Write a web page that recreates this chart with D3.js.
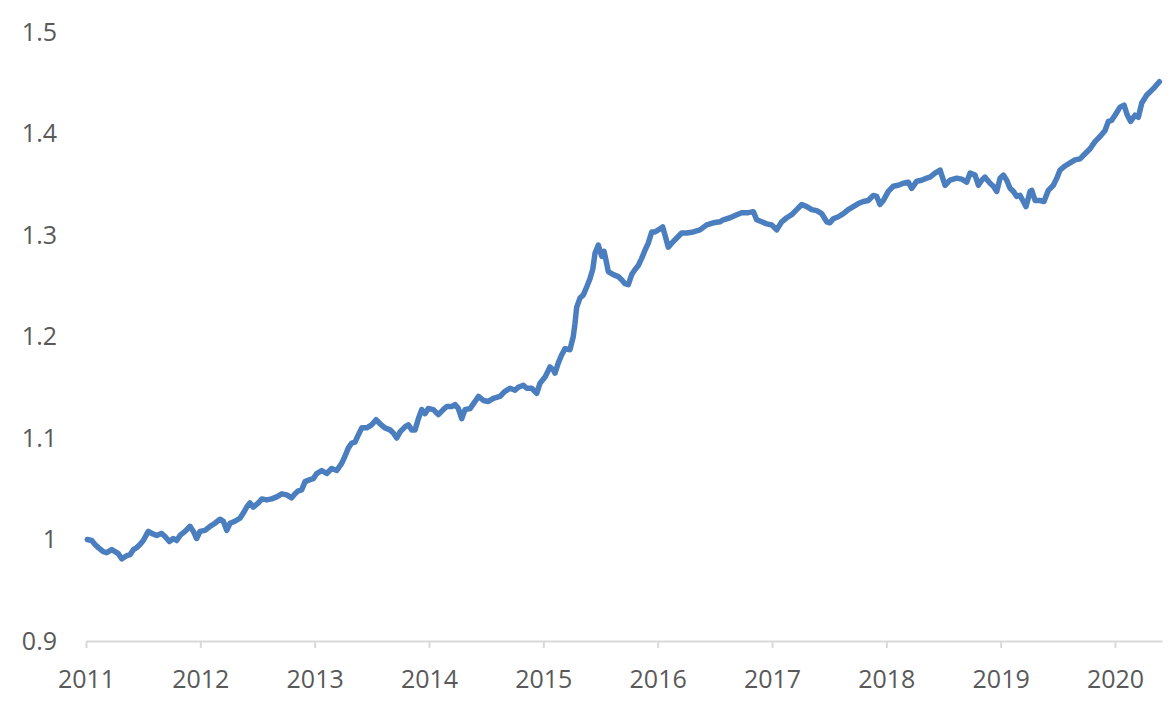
<!DOCTYPE html>
<html>
<head>
<meta charset="utf-8">
<script src="https://cdn.jsdelivr.net/npm/d3@7"></script>
<style>
  html, body { margin: 0; padding: 0; background: #ffffff; }
  svg { display: block; }
</style>
</head>
<body>
<svg id="chart" width="1176" height="705"></svg>
<script>
// ---- data ----
const xTickLabels = [2011, 2012, 2013, 2014, 2015, 2016, 2017, 2018, 2019, 2020];
const yTickLabels = [0.9, 1.0, 1.1, 1.2, 1.3, 1.4, 1.5];

const dates = [
  2011.011, 2011.050, 2011.079, 2011.108, 2011.151, 2011.181, 2011.225, 2011.254, 2011.283, 2011.312,
  2011.356, 2011.385, 2011.414, 2011.443, 2011.472, 2011.501, 2011.545, 2011.575, 2011.618, 2011.662,
  2011.691, 2011.729, 2011.764, 2011.793, 2011.822, 2011.866, 2011.910, 2011.939, 2011.968, 2011.997,
  2012.041, 2012.085, 2012.128, 2012.172, 2012.201, 2012.231, 2012.260, 2012.303, 2012.347, 2012.376,
  2012.406, 2012.434, 2012.463, 2012.507, 2012.537, 2012.581, 2012.624, 2012.668, 2012.712, 2012.756,
  2012.799, 2012.828, 2012.857, 2012.887, 2012.916, 2012.959, 2012.988, 2013.018, 2013.062, 2013.105,
  2013.149, 2013.193, 2013.236, 2013.265, 2013.294, 2013.324, 2013.353, 2013.382, 2013.412, 2013.455,
  2013.499, 2013.537, 2013.572, 2013.615, 2013.659, 2013.688, 2013.718, 2013.747, 2013.790, 2013.819,
  2013.849, 2013.878, 2013.907, 2013.936, 2013.965, 2013.994, 2014.038, 2014.082, 2014.125, 2014.155,
  2014.198, 2014.228, 2014.257, 2014.286, 2014.315, 2014.359, 2014.403, 2014.432, 2014.476, 2014.519,
  2014.563, 2014.621, 2014.665, 2014.709, 2014.752, 2014.781, 2014.825, 2014.855, 2014.898, 2014.942,
  2014.971, 2015.015, 2015.058, 2015.087, 2015.102, 2015.131, 2015.161, 2015.190, 2015.233, 2015.262,
  2015.277, 2015.292, 2015.321, 2015.350, 2015.380, 2015.408, 2015.432, 2015.452, 2015.481, 2015.511,
  2015.531, 2015.554, 2015.568, 2015.612, 2015.656, 2015.685, 2015.714, 2015.743, 2015.773, 2015.802,
  2015.831, 2015.860, 2015.889, 2015.918, 2015.948, 2015.977, 2016.006, 2016.044, 2016.064, 2016.093,
  2016.123, 2016.167, 2016.210, 2016.254, 2016.312, 2016.370, 2016.429, 2016.487, 2016.545, 2016.574,
  2016.633, 2016.692, 2016.735, 2016.793, 2016.837, 2016.866, 2016.910, 2016.954, 2016.997, 2017.041,
  2017.085, 2017.129, 2017.172, 2017.216, 2017.260, 2017.304, 2017.348, 2017.391, 2017.435, 2017.479,
  2017.507, 2017.536, 2017.580, 2017.624, 2017.667, 2017.711, 2017.755, 2017.799, 2017.842, 2017.886,
  2017.916, 2017.944, 2017.974, 2018.017, 2018.061, 2018.105, 2018.149, 2018.192, 2018.222, 2018.266,
  2018.309, 2018.353, 2018.382, 2018.426, 2018.470, 2018.514, 2018.557, 2018.616, 2018.659, 2018.703,
  2018.732, 2018.776, 2018.805, 2018.834, 2018.863, 2018.907, 2018.936, 2018.966, 2018.995, 2019.024,
  2019.053, 2019.082, 2019.111, 2019.141, 2019.169, 2019.198, 2019.222, 2019.257, 2019.272, 2019.301,
  2019.344, 2019.379, 2019.417, 2019.461, 2019.491, 2019.519, 2019.563, 2019.607, 2019.650, 2019.694,
  2019.738, 2019.782, 2019.825, 2019.869, 2019.913, 2019.942, 2019.971, 2020.000, 2020.044, 2020.079,
  2020.108, 2020.137, 2020.175, 2020.204, 2020.234, 2020.278, 2020.307, 2020.350, 2020.388
];

const values = [
  1.000, 0.999, 0.995, 0.992, 0.988, 0.987, 0.990, 0.988, 0.986, 0.981,
  0.984, 0.985, 0.990, 0.992, 0.995, 0.999, 1.008, 1.006, 1.004, 1.006,
  1.003, 0.998, 1.001, 0.999, 1.004, 1.008, 1.013, 1.008, 1.001, 1.008,
  1.009, 1.013, 1.016, 1.020, 1.018, 1.009, 1.016, 1.018, 1.021, 1.026,
  1.032, 1.036, 1.032, 1.036, 1.040, 1.039, 1.040, 1.042, 1.045, 1.044,
  1.041, 1.045, 1.048, 1.049, 1.057, 1.059, 1.060, 1.065, 1.068, 1.065,
  1.070, 1.068, 1.075, 1.082, 1.090, 1.095, 1.096, 1.103, 1.110, 1.110,
  1.113, 1.118, 1.114, 1.110, 1.108, 1.105, 1.100, 1.106, 1.111, 1.113,
  1.108, 1.108, 1.119, 1.128, 1.124, 1.129, 1.128, 1.123, 1.128, 1.131,
  1.131, 1.133, 1.129, 1.119, 1.128, 1.129, 1.136, 1.141, 1.137, 1.136,
  1.139, 1.141, 1.146, 1.149, 1.147, 1.150, 1.152, 1.149, 1.149, 1.144,
  1.154, 1.160, 1.170, 1.167, 1.164, 1.174, 1.182, 1.188, 1.187, 1.200,
  1.213, 1.229, 1.238, 1.241, 1.249, 1.257, 1.266, 1.282, 1.290, 1.279,
  1.284, 1.272, 1.264, 1.261, 1.259, 1.256, 1.252, 1.251, 1.261, 1.266,
  1.270, 1.277, 1.285, 1.292, 1.303, 1.303, 1.305, 1.308, 1.300, 1.288,
  1.292, 1.297, 1.302, 1.302, 1.303, 1.305, 1.310, 1.312, 1.313, 1.315,
  1.317, 1.320, 1.322, 1.322, 1.323, 1.315, 1.313, 1.311, 1.310, 1.305,
  1.313, 1.317, 1.320, 1.325, 1.330, 1.328, 1.325, 1.324, 1.321, 1.313,
  1.312, 1.316, 1.318, 1.321, 1.325, 1.328, 1.331, 1.333, 1.334, 1.339,
  1.338, 1.330, 1.334, 1.343, 1.348, 1.349, 1.351, 1.352, 1.346, 1.353,
  1.354, 1.356, 1.357, 1.361, 1.364, 1.349, 1.354, 1.356, 1.355, 1.352,
  1.361, 1.359, 1.349, 1.354, 1.357, 1.351, 1.348, 1.343, 1.356, 1.359,
  1.354, 1.346, 1.343, 1.338, 1.339, 1.333, 1.328, 1.343, 1.344, 1.334,
  1.334, 1.333, 1.344, 1.349, 1.356, 1.364, 1.368, 1.371, 1.374, 1.375,
  1.380, 1.385, 1.392, 1.397, 1.403, 1.412, 1.413, 1.418, 1.426, 1.428,
  1.418, 1.412, 1.418, 1.416, 1.430, 1.438, 1.441, 1.446, 1.451
];

const series = dates.map((d, i) => ({ date: d, value: values[i] }));

// ---- layout ----
const svg = d3.select("#chart");
const plotLeft = 86, plotRight = 1162, plotTop = 32, plotBottom = 641;
const textColor = "#595959";
const axisColor = "#d9d9d9";
const lineColor = "#4a7ebf";
const fontFamily = "'Open Sans', 'Liberation Sans', sans-serif";

const pxPerYear = (1115 - 86) / 9;
const x = d3.scaleLinear()
  .domain([2011, 2011 + (plotRight - plotLeft) / pxPerYear])
  .range([plotLeft, plotRight]);

const y = d3.scaleLinear()
  .domain([0.9, 1.5])
  .range([plotBottom, plotTop]);

// x axis
const xAxis = d3.axisBottom(x)
  .tickValues(xTickLabels)
  .tickFormat(d3.format("d"))
  .tickSizeInner(7)
  .tickSizeOuter(0)
  .tickPadding(0);

const gx = svg.append("g")
  .attr("transform", `translate(0,${plotBottom})`)
  .call(xAxis);
gx.select(".domain").attr("stroke", axisColor).attr("stroke-width", 2);
gx.selectAll(".tick line").attr("stroke", axisColor).attr("stroke-width", 2);
gx.selectAll(".tick text")
  .attr("y", 38)
  .attr("dy", "0.35em")
  .attr("fill", textColor)
  .style("font-family", fontFamily)
  .style("font-size", "25px");

// y axis (labels only)
const yAxis = d3.axisLeft(y)
  .tickValues(yTickLabels)
  .tickFormat(d => (Math.abs(d - 1) < 1e-9 ? "1" : d3.format(".1f")(d)))
  .tickSize(0)
  .tickPadding(0);

const gy = svg.append("g")
  .attr("transform", `translate(57,0)`)
  .call(yAxis);
gy.select(".domain").remove();
gy.selectAll(".tick text")
  .attr("fill", textColor)
  .style("font-family", fontFamily)
  .style("font-size", "25px");

// line
const line = d3.line()
  .x(d => x(d.date))
  .y(d => y(d.value))
  .curve(d3.curveLinear);

svg.append("path")
  .datum(series)
  .attr("fill", "none")
  .attr("stroke", lineColor)
  .attr("stroke-width", 5.5)
  .attr("stroke-linejoin", "round")
  .attr("stroke-linecap", "round")
  .attr("d", line);
</script>
</body>
</html>
